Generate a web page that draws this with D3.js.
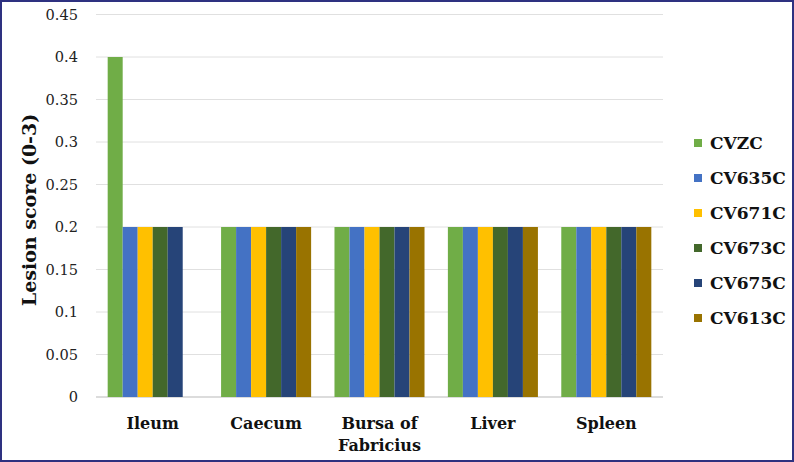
<!DOCTYPE html>
<html><head><meta charset="utf-8">
<script src="https://cdn.jsdelivr.net/npm/d3@7"></script>
<style>body{margin:0;background:#fff}svg{display:block}</style>
</head><body>
<svg id="c" width="794" height="462"></svg>
<script>
const categories = [["Ileum"], ["Caecum"], ["Bursa of", "Fabricius"], ["Liver"], ["Spleen"]];
const seriesNames = ["CVZC", "CV635C", "CV671C", "CV673C", "CV675C", "CV613C"];
const seriesColors = ["#70ad47", "#4472c4", "#ffc000", "#43682b", "#264478", "#997300"];
const CVZC   = [0.4, 0.2, 0.2, 0.2, 0.2];
const CV635C = [0.2, 0.2, 0.2, 0.2, 0.2];
const CV671C = [0.2, 0.2, 0.2, 0.2, 0.2];
const CV673C = [0.2, 0.2, 0.2, 0.2, 0.2];
const CV675C = [0.2, 0.2, 0.2, 0.2, 0.2];
const CV613C = [0, 0.2, 0.2, 0.2, 0.2];
const yTicks = [0, 0.05, 0.1, 0.15, 0.2, 0.25, 0.3, 0.35, 0.4, 0.45];
const yTitle = "Lesion score (0-3)";

const values = [CVZC, CV635C, CV671C, CV673C, CV675C, CV613C];
const svg = d3.select("#c");
const W = 794, H = 462;
svg.append("rect").attr("x", 1).attr("y", 1).attr("width", W - 2).attr("height", H - 2)
  .attr("fill", "#fff").attr("stroke", "#2e3180").attr("stroke-width", 2);

const m = {l: 96, r: 663, t: 14.5, b: 397};
const x0 = d3.scaleBand().domain(d3.range(categories.length)).range([m.l, m.r]).paddingInner(0.206).paddingOuter(0.103);
const x1 = d3.scaleBand().domain(d3.range(seriesNames.length)).range([0, x0.bandwidth()]);
const y = d3.scaleLinear().domain([0, 0.45]).range([m.b, m.t]);

const font = "'DejaVu Serif', serif";
// gridlines
svg.append("g").selectAll("line").data(yTicks).join("line")
  .attr("x1", m.l).attr("x2", m.r)
  .attr("y1", d => y(d)).attr("y2", d => y(d))
  .attr("stroke", d => d === 0 ? "#d0d0d0" : "#e0e0e0").attr("stroke-width", d => d === 0 ? 1.5 : 1);

// y tick labels
const yAxis = d3.axisLeft(y).tickValues(yTicks).tickSize(0).tickPadding(0).tickFormat(d => String(+d.toFixed(2)));
const ya = svg.append("g").attr("transform", `translate(${m.l - 18},0)`).call(yAxis);
ya.select(".domain").remove();
ya.selectAll("text").attr("font-family", font).attr("font-size", 14.6).attr("fill", "#222");

// bars
const g = svg.append("g");
categories.forEach((c, ci) => {
  seriesNames.forEach((s, si) => {
    const v = values[si][ci];
    if (!v) return;
    g.append("rect")
      .attr("x", x0(ci) + x1(si)).attr("width", x1.bandwidth())
      .attr("y", y(v)).attr("height", y(0) - y(v))
      .attr("fill", seriesColors[si]);
  });
});

// x labels
const xl = svg.append("g");
categories.forEach((c, ci) => {
  const t = xl.append("text").attr("x", x0(ci) + x0.bandwidth() / 2).attr("y", 429)
    .attr("text-anchor", "middle").attr("font-family", font).attr("font-weight", "bold")
    .attr("font-size", 16).attr("fill", "#111");
  c.forEach((line, li) => t.append("tspan").attr("x", x0(ci) + x0.bandwidth() / 2).attr("dy", li ? 22 : 0).text(line));
});

// y title
svg.append("text").attr("transform", `translate(36,210) rotate(-90)`)
  .attr("text-anchor", "middle").attr("font-family", font).attr("font-weight", "bold")
  .attr("font-size", 19).attr("fill", "#111").text(yTitle);

// legend
const lg = svg.append("g");
seriesNames.forEach((s, i) => {
  const yy = 143 + i * 35;
  lg.append("rect").attr("x", 694).attr("y", yy - 4).attr("width", 8).attr("height", 8).attr("fill", seriesColors[i]);
  lg.append("text").attr("x", 710).attr("y", yy + 6).attr("font-family", font).attr("font-weight", "bold")
    .attr("font-size", 17).attr("fill", "#111").text(s);
});
</script>
</body></html>
